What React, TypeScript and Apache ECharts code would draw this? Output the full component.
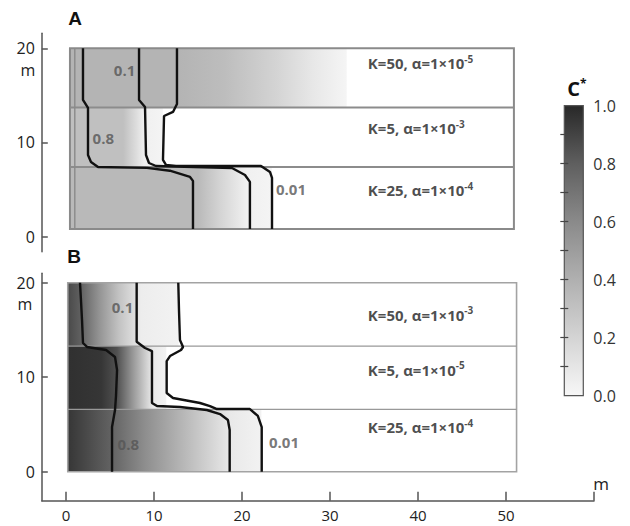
import React, { useEffect, useRef } from "react";
import * as echarts from "echarts";

// ---- axis ticks / labels ----
const xTickValues = [0, 10, 20, 30, 40, 50, 60];
const xLabelValues = [0, 10, 20, 30, 40, 50];
const yTickValues = [0, 10, 20];
const cbarTickValues = [0.1, 0.2, 0.3, 0.4, 0.5, 0.6, 0.7, 0.8, 0.9];
const cbarLabelValues = [0, 0.2, 0.4, 0.6, 0.8, 1.0];

// ---- colormap (C* -> gray level) ----
const cmapC = [0, 0.2, 0.4, 0.6, 0.8, 1.0];
const cmapGray = [247, 212, 176, 138, 95, 40];

// ---- panel geometry (m) ----
const panelXA = [0.45, 50.9];
const layerBoundsA = [0.8, 7.4, 13.7, 20];
const panelXB = [0.2, 51.2];
const layerBoundsB = [0, 6.6, 13.3, 20];
const innerLineA = [[1.0, 0.8], [1.0, 20]];

// ---- concentration profiles along x for each layer: [x (m), C*] ----
const profileA_bottom = [[0.45, 0.35], [15, 0.35], [17.5, 0.2], [20.5, 0.04], [23.4, 0.02]];
const profileA_middle = [[0.45, 0.31], [6.5, 0.31], [8, 0.15], [8.9, 0.04], [11, 0.02]];
const profileA_top = [[0.45, 0.38], [13, 0.38], [18, 0.33], [24, 0.2], [28, 0.09], [31.9, 0.01]];
const profileB_bottom = [[0.2, 0.95], [5.2, 0.78], [9, 0.58], [13, 0.38], [16, 0.22], [18.6, 0.08], [22.2, 0.03]];
const profileB_middle = [[0.2, 0.97], [4, 0.95], [5.8, 0.85], [7.5, 0.55], [9.8, 0.08], [11.4, 0.03]];
const profileB_top = [[0.2, 0.88], [1.6, 0.8], [3.8, 0.55], [6, 0.3], [8, 0.12], [8.5, 0.06], [12.8, 0.03]];

// ---- contour lines [x (m), y (m)] ----
const contourA_08 = [[1.93, 20], [1.93, 14.51], [2.5, 13.66], [2.5, 8.67], [2.84, 7.93], [3.64, 7.4], [9.2, 7.3], [11.8, 7.0], [14.09, 6.34], [14.43, 5.92], [14.43, 0.8]];
const contourA_01 = [[8.3, 20], [8.3, 14.51], [8.98, 13.77], [9.09, 8.67], [9.43, 7.82], [10.23, 7.5], [18.86, 7.29], [20.34, 6.55], [20.9, 5.81], [20.9, 0.8]];
const contourA_001 = [[12.61, 20], [12.61, 14.09], [12.16, 13.24], [11.14, 12.81], [11.02, 8.15], [11.36, 7.62], [12.5, 7.51], [22.16, 7.51], [23.18, 6.87], [23.41, 6.24], [23.41, 0.8]];
const contourB_08 = [[1.59, 20], [1.7, 18.17], [1.82, 16.05], [1.93, 13.62], [2.39, 13.2], [4.55, 12.88], [5.57, 12.14], [5.8, 10.76], [5.68, 8.01], [5.57, 6.53], [5.23, 4.73], [5.23, 0]];
const contourB_01 = [[8.03, 20], [8.03, 13.76], [8.98, 13.09], [9.77, 12.77], [9.77, 7.27], [10.34, 6.95], [12.95, 6.85], [16.0, 6.53], [17.5, 6.1], [18.4, 5.47], [18.6, 4.41], [18.6, 0]];
const contourB_001 = [[12.76, 20], [12.84, 17.1], [12.95, 13.94], [13.3, 13.2], [13.07, 12.88], [11.82, 12.24], [11.44, 11.7], [11.44, 8.33], [12.16, 7.8], [15.23, 7.27], [16.36, 6.95], [17.16, 6.63], [20.9, 6.63], [21.8, 5.9], [22.24, 4.73], [22.24, 0]];

// ---- contour labels [x, y, text] ----
const contourLabelsA = [[6.65, 17.7, "0.1"], [4.24, 10.48, "0.8"], [25.57, 5.03, "0.01"]];
const contourLabelsB = [[6.42, 17.46, "0.1"], [7.08, 2.93, "0.8"], [24.77, 3.11, "0.01"]];

// ---- layer parameter labels ----
const layerTextX = 34.3;
const layerTextA = ["K=50, α=1×10{s|-5}", "K=5, α=1×10{s|-3}", "K=25, α=1×10{s|-4}"];
const layerTextYA = [18.4, 11.5, 4.95];
const layerTextB = ["K=50, α=1×10{s|-3}", "K=5, α=1×10{s|-5}", "K=25, α=1×10{s|-4}"];
const layerTextYB = [16.6, 10.8, 4.7];

const profilesA = [profileA_bottom, profileA_middle, profileA_top];
const profilesB = [profileB_bottom, profileB_middle, profileB_top];

function grayOf(c: number): string {
  let g = cmapGray[cmapGray.length - 1];
  for (let i = 0; i < cmapC.length - 1; i++) {
    if (c <= cmapC[i + 1]) {
      const t = (c - cmapC[i]) / (cmapC[i + 1] - cmapC[i]);
      g = cmapGray[i] + t * (cmapGray[i + 1] - cmapGray[i]);
      break;
    }
  }
  const v = Math.round(Math.max(0, Math.min(255, g)));
  return `rgb(${v},${v},${v})`;
}

const FONT = "'Open Sans', 'DejaVu Sans', sans-serif";

function panelSeries(
  idx: number,
  profiles: number[][][],
  bounds: number[],
  panelX: number[],
  contours: number[][][],
  labels: any[],
  layerText: string[],
  layerTextY: number[],
  frameColor: string,
  frameWidth: number,
  boundColor: string,
  boundWidth: number,
  extraLines: number[][][]
) {
  const series: any[] = [];
  series.push({
    type: "custom",
    xAxisIndex: idx,
    yAxisIndex: idx,
    silent: true,
    encode: { x: [0, 1], y: [2, 3] },
    data: profiles.map((p, i) => [p[0][0], p[p.length - 1][0], bounds[i], bounds[i + 1], i]),
    renderItem: (params: any, api: any) => {
      const prof = profiles[api.value(4)];
      const x0 = prof[0][0];
      const x1 = prof[prof.length - 1][0];
      const a = api.coord([x0, api.value(3)]);
      const b = api.coord([x1, api.value(2)]);
      const stops = prof.map((q) => ({ offset: (q[0] - x0) / (x1 - x0), color: grayOf(q[1]) }));
      return {
        type: "rect",
        shape: { x: a[0], y: a[1], width: b[0] - a[0], height: b[1] - a[1] },
        style: { fill: new echarts.graphic.LinearGradient(0, 0, 1, 0, stops), stroke: null },
      };
    },
  });
  // layer boundaries
  [bounds[1], bounds[2]].forEach((y) => {
    series.push({
      type: "line",
      xAxisIndex: idx,
      yAxisIndex: idx,
      silent: true,
      symbol: "none",
      data: [[panelX[0], y], [panelX[1], y]],
      lineStyle: { color: boundColor, width: boundWidth },
    });
  });
  extraLines.forEach((l) => {
    series.push({
      type: "line",
      xAxisIndex: idx,
      yAxisIndex: idx,
      silent: true,
      symbol: "none",
      data: l,
      lineStyle: { color: "#8a8a8a", width: 1.4 },
    });
  });
  // frame
  series.push({
    type: "custom",
    xAxisIndex: idx,
    yAxisIndex: idx,
    silent: true,
    encode: { x: [0, 1], y: [2, 3] },
    data: [[panelX[0], panelX[1], bounds[0], bounds[3]]],
    renderItem: (params: any, api: any) => {
      const a = api.coord([api.value(0), api.value(3)]);
      const b = api.coord([api.value(1), api.value(2)]);
      return {
        type: "rect",
        shape: { x: a[0], y: a[1], width: b[0] - a[0], height: b[1] - a[1] },
        style: { fill: null, stroke: frameColor, lineWidth: frameWidth },
      };
    },
  });
  contours.forEach((c) => {
    series.push({
      type: "line",
      xAxisIndex: idx,
      yAxisIndex: idx,
      silent: true,
      symbol: "none",
      data: c,
      lineStyle: { color: "#111", width: 2.4 },
    });
  });
  series.push({
    type: "scatter",
    xAxisIndex: idx,
    yAxisIndex: idx,
    silent: true,
    symbolSize: 0,
    data: labels,
    label: {
      show: true,
      position: "inside",
      formatter: (p: any) => p.value[2],
      fontFamily: FONT,
      fontSize: 15,
      fontWeight: "bold",
      color: "#555",
    },
  });
  series.push({
    type: "scatter",
    xAxisIndex: idx,
    yAxisIndex: idx,
    silent: true,
    symbolSize: 0,
    data: layerText.map((t, i) => [layerTextX, layerTextY[i], t]),
    label: {
      show: true,
      position: "inside",
      align: "left",
      formatter: (p: any) => p.value[2],
      fontFamily: FONT,
      fontSize: 15,
      fontWeight: "bold",
      color: "#1e1e1e",
      lineHeight: 19,
      rich: {
        s: { fontFamily: FONT, fontSize: 10, fontWeight: "bold", color: "#1e1e1e", verticalAlign: "top", lineHeight: 19 },
      },
    },
  });
  return series;
}

export default function App() {
  const ref = useRef<HTMLDivElement>(null);
  useEffect(() => {
    if (!ref.current) return;
    const chart = echarts.init(ref.current, null, { renderer: "svg" });

    const xLeft = 41.8;
    const xRight = 36;
    const axisLineStyle = { color: "#555", width: 1.5 };

    const makeX = (gridIndex: number, show: boolean) => ({
      type: "value",
      gridIndex,
      min: -2.75,
      max: 60,
      show,
      axisLine: { show, onZero: false, lineStyle: axisLineStyle },
      axisTick: { show, inside: true, length: 9, customValues: xTickValues, lineStyle: axisLineStyle },
      axisLabel: { show, customValues: xLabelValues, fontSize: 15, lineHeight: 15, color: "#222", margin: 7, fontFamily: FONT },
      splitLine: { show: false },
    });
    const makeY = (gridIndex: number, min: number, max: number) => ({
      type: "value",
      gridIndex,
      min,
      max,
      axisLine: { show: true, onZero: false, lineStyle: axisLineStyle },
      axisTick: { show: true, inside: true, length: 6, customValues: yTickValues, lineStyle: axisLineStyle },
      axisLabel: { customValues: yTickValues, fontSize: 16, lineHeight: 14, color: "#222", margin: 7, fontFamily: FONT },
      splitLine: { show: false },
    });

    const cbarTop = 105.7;
    const cbarHeight = 290;

    const series: any[] = [
      ...panelSeries(0, profilesA, layerBoundsA, panelXA, [contourA_08, contourA_01, contourA_001], contourLabelsA, layerTextA, layerTextYA, "#8a8a8a", 2, "#8c8c8c", 2, [innerLineA]),
      ...panelSeries(1, profilesB, layerBoundsB, panelXB, [contourB_08, contourB_01, contourB_001], contourLabelsB, layerTextB, layerTextYB, "#a3a3a3", 1.6, "#999", 1.2, []),
      {
        type: "custom",
        xAxisIndex: 2,
        yAxisIndex: 2,
        silent: true,
        z: 1,
        encode: { x: [0, 1], y: [2, 3] },
        data: [[0, 1, 0, 1]],
        renderItem: (params: any, api: any) => {
          const a = api.coord([api.value(0), api.value(3)]);
          const b = api.coord([api.value(1), api.value(2)]);
          const stops = cmapC.map((c) => ({ offset: 1 - c, color: grayOf(c) })).reverse();
          return {
            type: "rect",
            shape: { x: a[0], y: a[1], width: b[0] - a[0], height: b[1] - a[1] },
            style: { fill: new echarts.graphic.LinearGradient(0, 0, 0, 1, stops), stroke: "#555", lineWidth: 1.2 },
          };
        },
      },
    ];

    chart.setOption({
      animation: false,
      backgroundColor: "#fff",
      grid: [
        { left: xLeft, right: xRight, top: 33.2, height: 218.5 },
        { left: xLeft, right: xRight, top: 273.25, height: 227.5 },
        { left: 564.3, width: 19, top: cbarTop, height: cbarHeight },
      ],
      xAxis: [
        makeX(0, false),
        makeX(1, true),
        { type: "value", gridIndex: 2, min: 0, max: 1, show: false },
      ],
      yAxis: [
        makeY(0, -1.6, 21.6),
        makeY(1, -3.07, 21.0),
        {
          type: "value",
          gridIndex: 2,
          position: "right",
          min: 0,
          max: 1,
          axisLine: { show: false },
          axisTick: { show: true, inside: true, length: 4, customValues: cbarTickValues, lineStyle: { color: "#444", width: 1.2 } },
          axisLabel: { customValues: cbarLabelValues, formatter: (v: number) => v.toFixed(1), fontSize: 16, color: "#333", margin: 10, fontFamily: FONT },
          splitLine: { show: false },
          z: 5,
        },
        {
          type: "value",
          gridIndex: 2,
          position: "left",
          min: 0,
          max: 1,
          axisLine: { show: false },
          axisTick: { show: true, inside: true, length: 4, customValues: cbarTickValues, lineStyle: { color: "#444", width: 1.2 } },
          axisLabel: { show: false },
          splitLine: { show: false },
          z: 5,
        },
      ],
      series,
      graphic: [
        { type: "text", x: 75, y: 18, style: { text: "A", fontSize: 19, fontWeight: "bold", fontFamily: "'Liberation Sans', Arial, sans-serif", fill: "#111", align: "center", verticalAlign: "middle" } },
        { type: "text", x: 74, y: 256, style: { text: "B", fontSize: 19, fontWeight: "bold", fontFamily: "'Liberation Sans', Arial, sans-serif", fill: "#111", align: "center", verticalAlign: "middle" } },
        { type: "text", x: 28, y: 70, style: { text: "m", fontSize: 16, lineHeight: 14, fontFamily: FONT, fill: "#222", align: "center", verticalAlign: "middle" } },
        { type: "text", x: 25, y: 304, style: { text: "m", fontSize: 16, lineHeight: 14, fontFamily: FONT, fill: "#222", align: "center", verticalAlign: "middle" } },
        { type: "text", x: 601, y: 483, style: { text: "m", fontSize: 17, fontFamily: FONT, fill: "#222", align: "center", verticalAlign: "middle" } },
        {
          type: "text",
          x: 577,
          y: 88,
          style: {
            text: "{c|C}{s|*}",
            align: "center",
            verticalAlign: "middle",
            rich: {
              c: { fontSize: 20, fontWeight: "bold", fontFamily: FONT, fill: "#111", lineHeight: 22 },
              s: { fontSize: 12, fontWeight: "bold", fontFamily: FONT, fill: "#111", verticalAlign: "top", lineHeight: 22 },
            },
          },
        },
      ],
    });
    return () => chart.dispose();
  }, []);

  return <div ref={ref} style={{ position: "absolute", left: 0, top: 0, width: 630, height: 526 }} />;
}
